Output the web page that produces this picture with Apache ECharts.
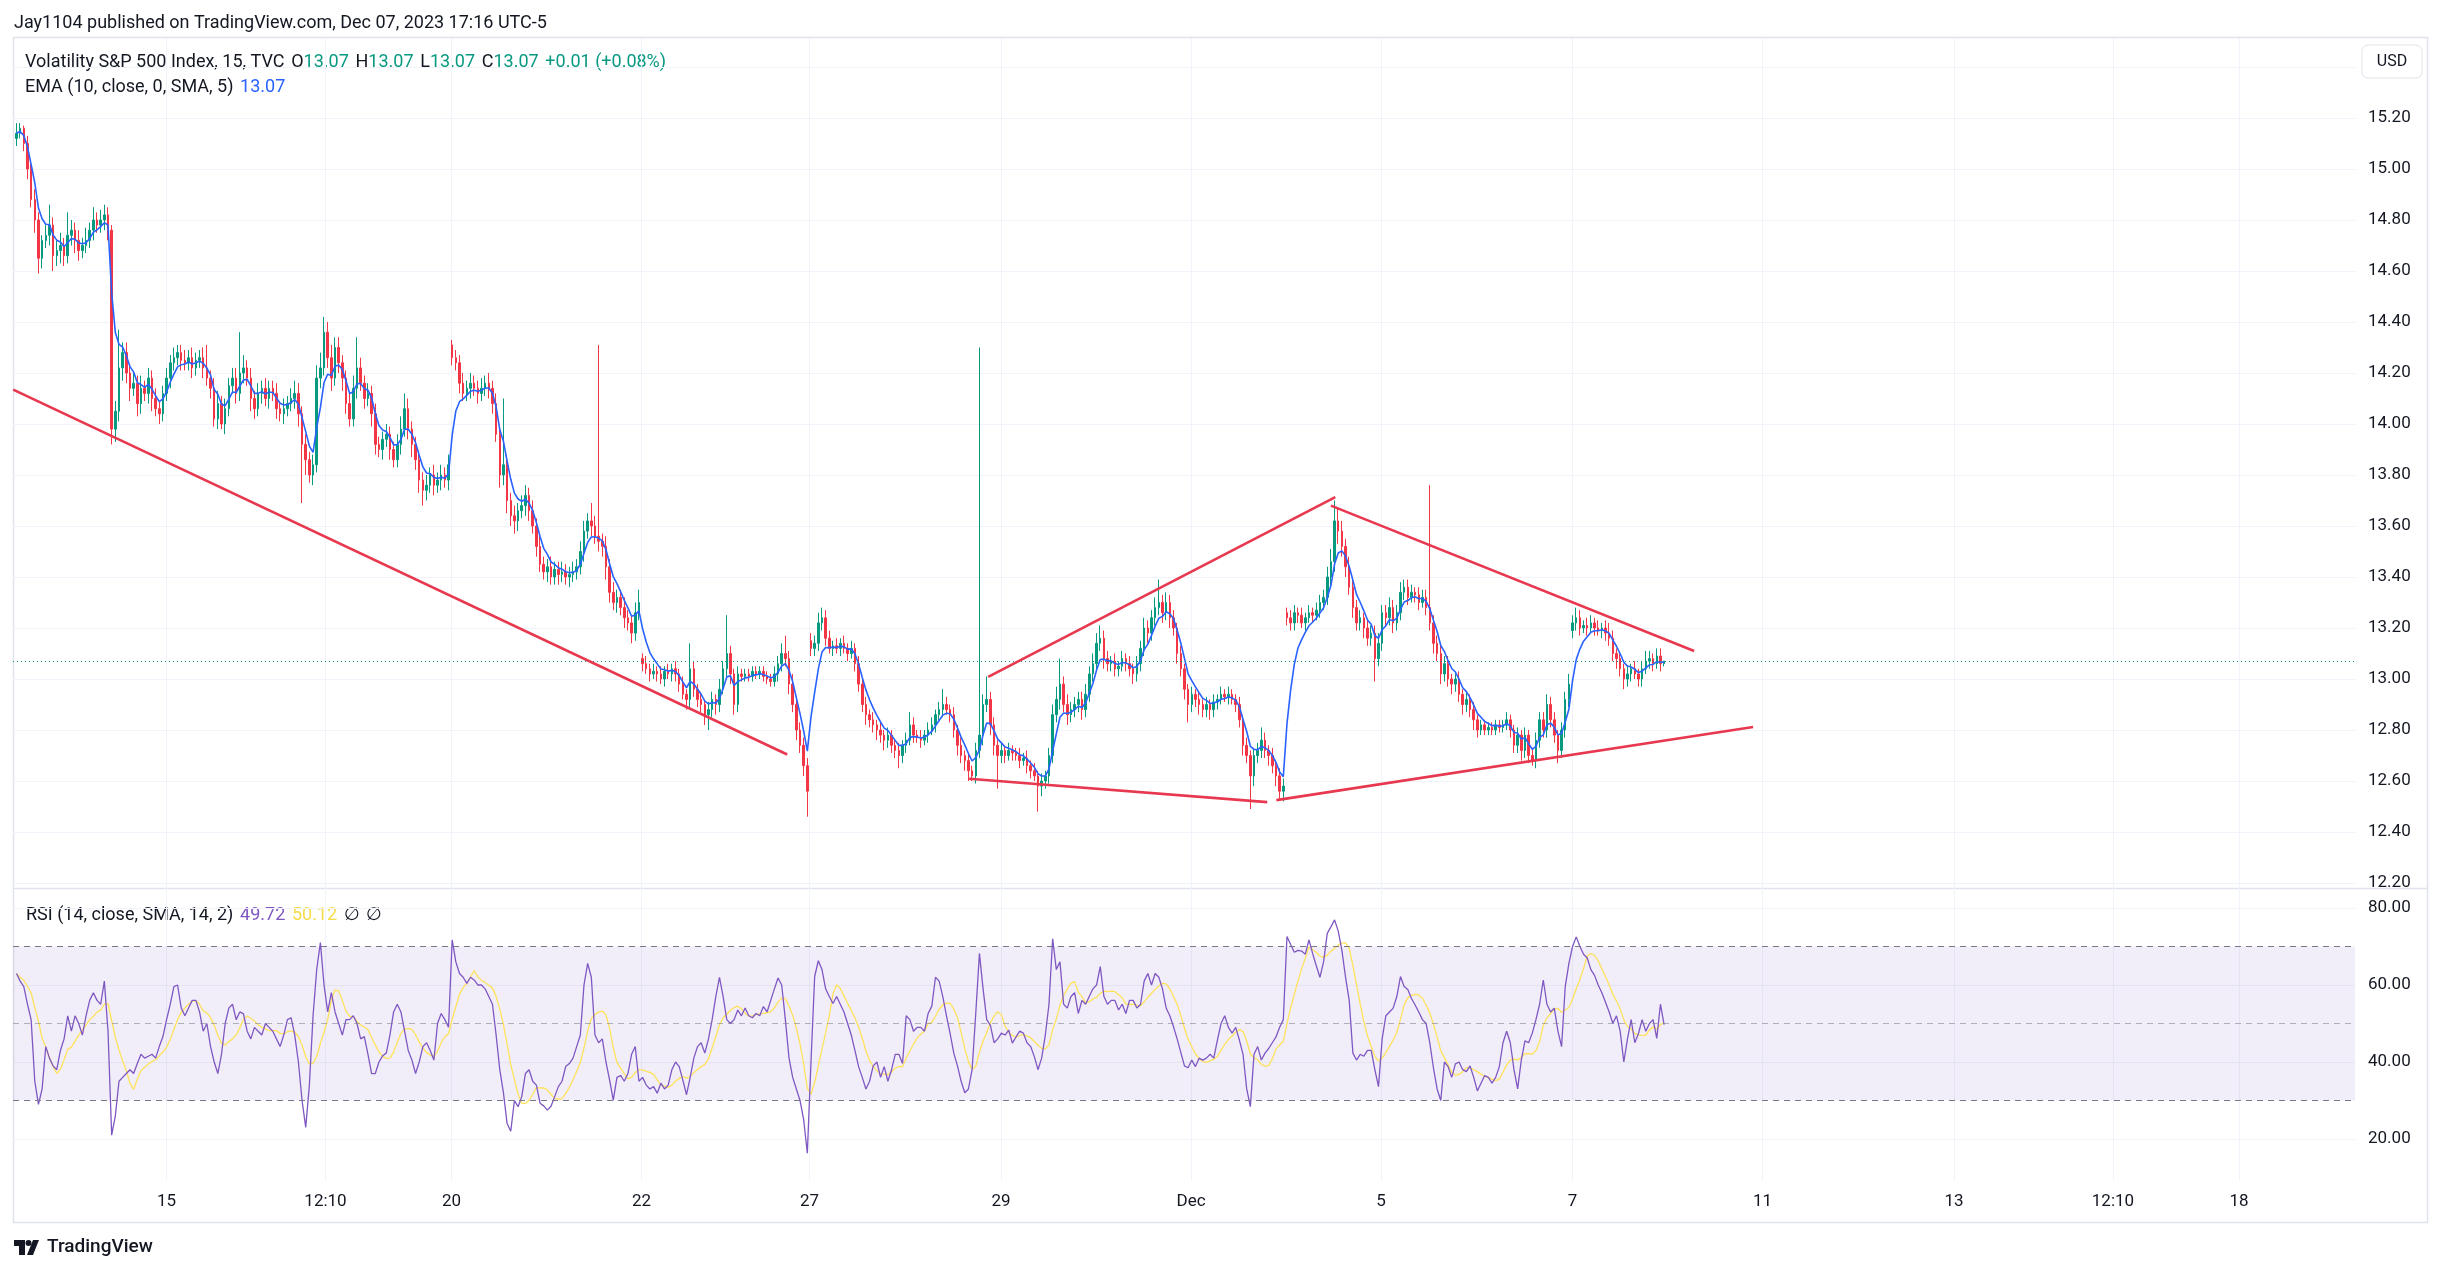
<!DOCTYPE html>
<html><head><meta charset="utf-8">
<script src="https://cdn.jsdelivr.net/npm/echarts@6/dist/echarts.min.js"></script>
<style>html,body{margin:0;padding:0;background:#fff;}#c{width:2441px;height:1271px;}</style>
</head><body><div id="c"></div>
<script>
// ---------------- DATA (prices in cents) ----------------
const firstBar = 11;            // bar index of first visible candle
const firstOpen = 1512;
const closeC = [
1514,1516,1510,1500,1488,1480,1465,1472,1474,1478,
1466,1468,1470,1466,1474,1476,1472,1468,1470,1472,
1476,1480,1478,1480,1482,1476,1398,1405,1422,1428,
1420,1414,1416,1408,1414,1412,1418,1410,1406,1404,
1412,1418,1424,1426,1428,1425,1424,1426,1422,1425,
1426,1422,1418,1414,1402,1408,1400,1406,1415,1418,
1412,1420,1422,1418,1410,1406,1412,1414,1410,1414,
1412,1406,1404,1406,1408,1410,1412,1404,1392,1386,
1380,1384,1418,1422,1436,1426,1418,1430,1424,1418,
1408,1402,1414,1422,1416,1410,1412,1404,1392,1390,
1394,1396,1390,1386,1392,1398,1406,1398,1392,1386,
1378,1374,1376,1380,1376,1378,1380,1378,1384,1426,
1424,1416,1412,1414,1416,1414,1412,1414,1416,1414,
1408,1396,1380,1384,1370,1364,1362,1366,1368,1372,
1366,1360,1352,1345,1342,1344,1340,1343,1341,1342,
1340,1341,1342,1344,1350,1358,1362,1360,1356,1354,
1352,1344,1334,1330,1332,1328,1324,1322,1318,1326,
1330,1306,1304,1302,1303,1302,1300,1303,1302,1304,
1302,1298,1294,1292,1304,1296,1292,1290,1286,1288,
1292,1290,1296,1304,1310,1302,1290,1302,1301,1302,
1301,1303,1302,1303,1301,1300,1299,1302,1306,1310,
1308,1298,1290,1280,1274,1266,1256,1312,1314,1322,
1324,1316,1312,1313,1312,1314,1312,1310,1312,1306,
1298,1290,1286,1284,1282,1280,1278,1276,1278,1274,
1272,1270,1274,1276,1282,1278,1277,1276,1278,1280,
1282,1286,1288,1290,1288,1286,1280,1274,1270,1268,
1264,1262,1272,1278,1290,1292,1282,1274,1270,1272,
1270,1272,1271,1270,1268,1269,1266,1264,1262,1258,
1260,1262,1270,1286,1292,1298,1290,1286,1288,1290,
1292,1288,1294,1302,1306,1314,1316,1308,1306,1307,
1304,1305,1308,1306,1304,1302,1306,1312,1320,1318,
1324,1328,1330,1326,1330,1324,1320,1310,1304,1296,
1290,1294,1292,1290,1288,1290,1288,1291,1292,1294,
1293,1294,1292,1290,1284,1274,1270,1262,1270,1272,
1276,1272,1270,1266,1262,1256,1258,1324,1322,1326,
1325,1322,1324,1326,1325,1327,1330,1332,1340,1346,
1362,1358,1352,1344,1336,1328,1322,1324,1320,1316,
1318,1308,1314,1326,1324,1328,1322,1326,1334,1336,
1332,1334,1333,1330,1332,1328,1322,1314,1310,1302,
1306,1300,1298,1300,1294,1290,1292,1288,1284,1280,
1282,1280,1281,1280,1282,1281,1282,1284,1280,1274,
1278,1272,1278,1270,1268,1276,1284,1280,1290,1284,
1278,1272,1280,1292,1298,1322,1324,1320,1321,1320,
1322,1320,1319,1320,1318,1316,1310,1308,1304,1300,
1302,1304,1302,1300,1304,1307,1308,1306,1309,1306,1307];
const wickUpC = [
4,2,1,3,2,4,3,2,4,8, 3,4,5,3,9,4,3,4,3,5, 3,5,3,4,4,3,2,4,15,4, 4,3,4,3,5,3,4,3,4,3,
3,4,3,4,3,3,4,3,4,3, 3,4,9,3,4,5,3,4,3,4, 4,16,5,3,4,3,4,3,4,3, 3,4,3,4,3,4,5,4,3,4,
3,4,5,6,6,4,5,4,4,3, 3,4,5,12,4,3,4,3,4,3, 3,4,3,3,4,5,6,4,3,3, 3,3,4,3,4,3,4,3,4,2,
3,3,4,3,4,3,3,4,3,4, 3,4,3,26,4,3,4,3,4,4, 3,4,3,4,3,3,4,3,3,4, 3,3,4,3,4,4,3,7,4,75,
3,4,3,4,3,3,4,3,3,4, 5,2,3,2,3,2,3,2,3,2, 3,2,3,2,10,3,2,3,2,3, 3,2,4,3,15,3,2,3,2,2,
2,2,2,2,2,2,2,3,3,4, 7,3,4,3,3,3,3,3,3,4, 4,3,3,2,3,2,3,2,3,2, 3,2,3,2,3,2,3,2,3,2,
2,3,2,3,5,3,2,3,2,3, 3,2,3,6,3,2,3,2,3,2, 3,2,3,152,4,9,3,3,2,3, 2,3,2,2,3,2,3,2,3,2,
3,2,3,4,5,10,3,4,3,3, 3,3,4,3,4,4,5,3,3,2, 3,2,3,2,3,2,3,3,4,3, 3,4,9,3,4,3,3,2,3,2,
2,3,2,3,2,3,2,3,2,3, 2,3,2,2,3,2,3,2,3,3, 5,3,2,3,2,3,3,2,3,3, 2,3,2,3,2,3,3,3,4,5,
8,5,4,3,4,3,3,3,2,3, 3,3,4,3,3,4,3,3,4,3, 3,3,2,3,3,3,48,3,3,3, 3,3,2,3,3,2,3,2,3,2,
2,2,2,2,2,2,2,3,2,2, 3,2,3,2,3,3,3,3,4,3, 3,2,3,3,4,3,4,3,2,3, 3,2,3,2,3,4,3,2,3,2,
3,2,3,2,3,4,3,2,3,3,0];
const wickDnC = [
3,2,3,4,3,5,6,4,3,4, 6,4,5,4,3,4,5,4,3,3, 3,4,3,3,4,4,6,5,4,5, 4,5,3,5,4,3,4,5,3,4,
3,3,4,3,3,4,3,3,4,3, 3,4,3,4,3,4,2,4,3,3, 4,3,4,3,5,4,3,4,3,4, 3,4,3,4,3,3,4,5,23,6,
3,4,3,4,3,4,5,3,4,5, 4,3,3,4,3,4,3,5,4,3, 4,3,4,3,3,4,3,4,5,4, 5,6,4,3,4,3,4,3,4,3,
3,4,3,3,4,3,4,3,3,4, 4,3,5,4,5,4,5,4,3,4, 4,3,4,3,3,4,3,3,4,3, 3,4,3,3,3,4,3,4,3,4,
4,5,4,3,4,3,4,3,4,3, 3,3,2,3,2,3,2,3,2,3, 3,3,2,4,3,3,3,3,4,6, 3,4,3,2,3,4,4,3,2,2,
2,2,2,2,2,2,2,2,3,3, 3,4,3,4,3,4,10,3,3,3, 3,3,2,3,2,3,2,3,2,3, 3,3,4,3,3,4,3,4,3,3,
3,5,3,3,2,3,2,3,2,3, 2,3,2,3,2,3,3,4,3,4, 4,2,3,3,4,3,4,4,13,3, 3,2,3,2,3,2,3,3,2,10,
4,3,3,3,3,4,3,4,3,3, 3,4,3,3,3,3,3,4,3,3, 3,3,2,3,3,4,3,3,3,4, 3,3,3,4,3,4,3,4,3,4,
7,3,3,4,3,3,4,3,3,2, 2,3,2,3,3,4,3,13,4,3, 3,3,4,3,4,3,4,3,3,3, 3,2,3,2,3,2,3,3,3,4,
4,5,4,4,3,4,3,3,4,3, 3,9,3,3,3,3,4,3,3,3, 3,2,3,3,2,3,3,4,3,4, 3,3,4,3,3,4,3,3,4,3,
2,2,2,2,2,2,2,2,3,3, 3,4,3,3,2,3,3,3,3,3, 3,5,3,3,3,3,3,3,2,3, 2,3,2,3,3,3,3,4,3,4,
3,3,2,3,3,2,3,3,2,3,1];
const gapBars  = [130, 182, 228, 358, 436];
const gapOpenC = [1431, 1308, 1315, 1326, 1319];
const rsiVals = [
63,61,59.6,55,51,35,29,33,44,41, 39,38,43,46,52,48,52,50,47,52, 56,58,56,55,61,48,21,26,35,36,
37,38,37,39.6,42,41,41.5,42,41,44, 46.6,51,55,59.6,60,54,52,54,56,56, 53,48,50,44,40,37,42,50,54,55,
51,53,52.5,48,46,49,48,47,50,49, 48,46,44,47,51,51.5,47,40,30,23, 34,52,64,71,60,53,58,53,50,47,
51,51,52,50,46,46.6,42,37,37,40, 41.6,42.3,47,53,55,53,48,43,40.5,37, 40,44,45,43,40.5,50,52.6,51,49,71.7,
66,63,62,60.4,62,61.3,60,60,59,57, 55,47,38,32,24,22,30,28.4,31,37, 38,35,34,29.3,28.6,27.5,28.5,31,33.6,35,
38.8,39.6,41,44,47,60,65.6,62,47,45, 46,40,35.3,30.1,36,36.5,35,37,42,44, 35,36,34,33,33.6,31.9,34.5,33,34,38,
40,38.8,35.3,31.5,36,41,44,45,42.3,46, 51,57,62,57,51,50,51,53.5,52,54, 52,51.5,52.6,52,54.4,53,56,59,61.8,60,
51,41,36,33,30,25,16.3,40,62.2,66.3, 64,59,57,55.2,57,55,53,50,47,43, 38.8,36,33,35,39,40,36,38.8,35,38,
42,42,39.6,52,51,48,49,49,48,52.6, 54.5,62,61,57,52,47.4,42.3,39,35,32, 33,38,52.6,68.2,59,51,49.5,45,46,47.5,
47,48.3,44.9,46.5,48,47.5,45,44,41.4,38, 41,47,55,72,64,66,55,54,57,58, 52.6,56,55,57,59,60,64.8,57,55,56,
56,53.5,55,52.6,56,56,54,55,61,63, 60,63,62,59,54,52,49.2,46,42.5,39, 38.5,40.5,38.8,41,40.5,41,42,41,45.7,50,
52,49,47.5,49,45.7,42,33,28.4,42,44, 40.5,42.3,43.5,45,46.5,49,51,72.6,70.5,68.5, 69,68.8,68,71.7,68.2,65,62,66,73.4,75.1,
76.9,74,69,62,56,42.3,40.5,42,41.5,43, 43,38,33.6,46,52,53,54,57,62.2,59.6, 58.8,56.5,54.8,53,51,50,45,38.5,33,30,
40,38.8,36,39.5,40,38,37.5,39,36,32.5, 34.5,36.5,36,34.5,36,38.8,45,48,45,38, 33,40.5,45.5,45,47.5,51,55,61.3,55,53,
54,48,44,59.6,65.6,70,72.5,70,68,67, 64,62.5,60,58,55.5,53,50,52,48,40, 46,51,45,47.4,51,48,50,51,46.15,55,49.72];
const timeLabels    = ['15','12:10','20','22','27','29','Dec','5','7','11','13','12:10','18'];
const timeLabelBars = [52, 95.4, 129.8, 181.7, 227.6, 279.9, 331.8, 383.7, 436, 487.9, 540.2, 583.6, 618];
const priceLabels = [12.2,12.4,12.6,12.8,13.0,13.2,13.4,13.6,13.8,14.0,14.2,14.4,14.6,14.8,15.0,15.2];
const priceGrid   = [12.2,12.4,12.6,12.8,13.0,13.2,13.4,13.6,13.8,14.0,14.2,14.4,14.6,14.8,15.0,15.2,15.4];
const rsiLabels = [20, 40, 60, 80];
const rsiBands  = [70, 50, 30];
// drawn trend lines: [bar1, price1, bar2, price2]
const trendLines = [
  [10.1, 14.135, 221.5, 12.704],
  [271.2, 12.609, 352.6, 12.517],
  [276.4, 13.008, 371.2, 13.713],
  [370.0, 13.680, 469.2, 13.110],
  [355.1, 12.525, 485.3, 12.812]
];
const emaLen = 5;      // EMA(10) on the original 15-min bars ~ 5 of these bars
const rsiMaLen = 7;    // SMA(14) of RSI likewise

// ---------------- BUILD ----------------
const candles = [], closes = [];
for (let i = 0; i < closeC.length; i++) {
  const bar = firstBar + i;
  const g = gapBars.indexOf(bar);
  const o = (i === 0 ? firstOpen : (g >= 0 ? gapOpenC[g] : closeC[i - 1])) / 100;
  const c = closeC[i] / 100;
  const h = Math.max(o, c) + wickUpC[i] / 100;
  const l = Math.min(o, c) - wickDnC[i] / 100;
  candles.push([bar, o, c, l, h]);
  closes.push(c);
}
const ema = []; let e = closes[0]; const k = 2 / (emaLen + 1);
closes.forEach((c, i) => { e = i === 0 ? c : c * k + e * (1 - k); ema.push([firstBar + i, e]); });
const rsiLine = rsiVals.map((v, i) => [firstBar + i, v]);
const rsiMa = rsiVals.map((v, i) => {
  const s = rsiVals.slice(Math.max(0, i - rsiMaLen + 1), i + 1);
  return [firstBar + i, s.reduce((a, b) => a + b, 0) / s.length];
});
const last = candles[candles.length - 1];
const prevClose = closeC[closeC.length - 2] / 100;
const lastRsi = rsiVals[rsiVals.length - 1], lastRsiMa = rsiMa[rsiMa.length - 1][1];

const FONT = 'Roboto, "Noto Sans", sans-serif';
const TXT = '#131722', GRID = '#f0f3fa', UP = '#089981', DN = '#f23645';
const X_MIN = 10.05, X_MAX = 649.7;

const xBase = (gi, showLabel) => ({
  type: 'value', gridIndex: gi, min: X_MIN, max: X_MAX,
  axisLine: { show: false },
  axisTick: { show: false, customValues: timeLabelBars },
  splitLine: { show: true, lineStyle: { color: GRID, width: 1 } },
  axisLabel: showLabel ? {
    show: true, customValues: timeLabelBars, margin: 13, color: TXT, fontSize: 17, fontFamily: FONT,
    formatter: v => timeLabels[timeLabelBars.indexOf(v)] || ''
  } : { show: false }
});

const series = [
  {
    type: 'candlestick', xAxisIndex: 0, yAxisIndex: 0, data: candles, barWidth: 2,
    encode: { x: 0, y: [1, 2, 3, 4] },
    itemStyle: { color: UP, color0: DN, borderColor: UP, borderColor0: DN, borderWidth: 1 },
    markLine: { silent: true, symbol: 'none', label: { show: false },
      lineStyle: { color: UP, type: [1, 3], width: 1 }, data: [{ yAxis: last[2] }] }
  },
  { type: 'line', xAxisIndex: 0, yAxisIndex: 0, data: ema, showSymbol: false,
    lineStyle: { color: '#2962ff', width: 1.6 }, z: 3 }
];
trendLines.forEach(t => series.push({
  type: 'line', xAxisIndex: 0, yAxisIndex: 0, data: [[t[0], t[1]], [t[2], t[3]]],
  showSymbol: false, lineStyle: { color: '#e8384f', width: 2.6 }, z: 5
}));
series.push({
  type: 'line', xAxisIndex: 1, yAxisIndex: 1, data: rsiLine, showSymbol: false,
  lineStyle: { color: '#7e57c2', width: 1.3 }, z: 3,
  markArea: { silent: true, itemStyle: { color: 'rgba(126,87,194,0.10)' },
    data: [[{ yAxis: rsiBands[2] }, { yAxis: rsiBands[0] }]] },
  markLine: { silent: true, symbol: 'none', label: { show: false },
    data: rsiBands.map(v => ({ yAxis: v, lineStyle: { color: v === 50 ? 'rgba(120,123,134,0.55)' : '#787b86', type: [6, 5], width: 1.2 } })) }
});
series.push({
  type: 'line', xAxisIndex: 1, yAxisIndex: 1, data: rsiMa, showSymbol: false,
  lineStyle: { color: '#fde25a', width: 1.3 }, z: 2
});

const LF = '18px ' + FONT;
const legendRich = {
  t: { fill: TXT, font: LF },
  g: { fill: UP, font: LF },
  b: { fill: '#2962ff', font: LF },
  p: { fill: '#7e57c2', font: LF },
  y: { fill: '#f5dc4a', font: LF }
};
const f2 = v => v.toFixed(2);
const chg = last[2] - prevClose;
const line1 = '{t|Volatility S&P 500 Index, 15, TVC}  {t|O}{g|' + f2(last[2]) + '}  {t|H}{g|' + f2(last[2]) +
  '}  {t|L}{g|' + f2(last[2]) + '}  {t|C}{g|' + f2(last[2]) + '}  {g|+' + f2(chg) + ' (+' + f2(chg / prevClose * 100) + '%)}';
const line2 = '{t|EMA (10, close, 0, SMA, 5)}  {b|' + f2(ema[ema.length - 1][1]) + '}';
const line3 = '{t|RSI (14, close, SMA, 14, 2)}  {p|' + f2(lastRsi) + '}  {y|' + f2(lastRsiMa) + '}  {t|∅}  {t|∅}';

const option = {
  animation: false,
  backgroundColor: '#ffffff',
  grid: [
    { left: 13, right: 86, top: 38, height: 850 },
    { left: 13, right: 86, top: 888, height: 292 }
  ],
  xAxis: [xBase(0, false), xBase(1, true)],
  yAxis: [
    { type: 'value', gridIndex: 0, position: 'right', min: 12.1804, max: 15.5137,
      axisLine: { show: false }, axisTick: { show: false, customValues: priceGrid },
      splitLine: { show: true, lineStyle: { color: GRID } },
      axisLabel: { customValues: priceLabels, margin: 13, color: TXT, fontSize: 17, fontFamily: FONT, formatter: v => v.toFixed(2) } },
    { type: 'value', gridIndex: 1, position: 'right', min: 9.35, max: 85.19,
      axisLine: { show: false }, axisTick: { show: false, customValues: rsiLabels },
      splitLine: { show: true, lineStyle: { color: GRID } },
      axisLabel: { customValues: rsiLabels, margin: 13, color: TXT, fontSize: 17, fontFamily: FONT, formatter: v => v.toFixed(2) } }
  ],
  series,
  graphic: [
    { type: 'text', left: 14, top: 14, style: { text: 'Jay1104 published on TradingView.com, Dec 07, 2023 17:16 UTC-5', fill: TXT, font: '18px ' + FONT } },
    { type: 'rect', shape: { x: 13.5, y: 37.5, width: 2414, height: 1185 }, style: { fill: 'none', stroke: '#e0e3eb', lineWidth: 1.5 }, silent: true },
    { type: 'line', shape: { x1: 13, y1: 888.5, x2: 2427, y2: 888.5 }, style: { stroke: '#e0e3eb', lineWidth: 1.5 }, silent: true },
    { type: 'rect', shape: { x: 2362, y: 45, width: 60, height: 33, r: 6 }, style: { fill: '#fff', stroke: '#e0e3eb', lineWidth: 1 }, z: 10 },
    { type: 'text', x: 2392, y: 62, style: { text: 'USD', fill: TXT, font: '16px ' + FONT, align: 'center', verticalAlign: 'middle' }, z: 11 },
    { type: 'text', left: 25, top: 53, style: { text: line1, rich: legendRich } },
    { type: 'text', left: 25, top: 78, style: { text: line2, rich: legendRich } },
    { type: 'text', left: 26, top: 906, style: { text: line3, rich: legendRich } },
    { type: 'group', left: 14, top: 1240, children: [
      { type: 'polygon', shape: { points: [[0,0],[11,0],[11,15],[5,15],[5,6],[0,6]] }, style: { fill: TXT } },
      { type: 'circle', shape: { cx: 14.5, cy: 3, r: 3 }, style: { fill: TXT } },
      { type: 'polygon', shape: { points: [[19,0],[25,0],[19,15],[13,15]] }, style: { fill: TXT } }
    ] },
    { type: 'text', left: 47, top: 1238, style: { text: 'TradingView', fill: TXT, font: '500 19px ' + FONT } }
  ]
};
const chart = echarts.init(document.getElementById('c'));
chart.setOption(option);
</script>
</body></html>
